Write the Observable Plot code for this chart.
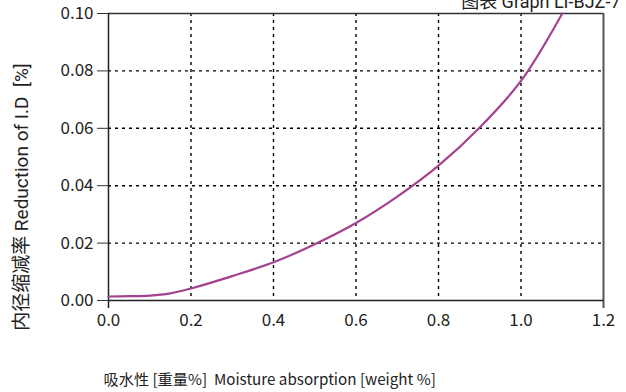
<!DOCTYPE html>
<html>
<head>
<meta charset="utf-8">
<script src="https://cdn.jsdelivr.net/npm/d3@7"></script>
<script src="https://cdn.jsdelivr.net/npm/@observablehq/plot@0.6"></script>
<style>
  html, body { margin: 0; padding: 0; background: #fff; }
  svg { font-family: "Noto Sans CJK SC", "Noto Sans", sans-serif; }
</style>
</head>
<body>
<div id="chart"></div>
<script>
const moisture = [0, 0.05, 0.1, 0.15, 0.2, 0.3, 0.4, 0.5, 0.6, 0.7, 0.8, 0.9, 1.0, 1.1];
const reduction = [0.0014, 0.0015, 0.0017, 0.0025, 0.0042, 0.0085, 0.0133, 0.0196, 0.0270, 0.0362, 0.0470, 0.0603, 0.0765, 0.1000];
const xTicks = [0, 0.2, 0.4, 0.6, 0.8, 1.0, 1.2];
const yTicks = [0, 0.02, 0.04, 0.06, 0.08, 0.10];
const title = "图表 Graph LI-BJZ-7";
const xLabel = "吸水性 [重量%]  Moisture absorption [weight %]";
const yLabel = "内径缩减率 Reduction of I.D  [%]";

const data = moisture.map((m, i) => ({m, r: reduction[i]}));

const chart = Plot.plot({
  width: 626,
  height: 392,
  marginLeft: 108,
  marginRight: 23,
  marginTop: 13,
  marginBottom: 92,
  style: {fontSize: "16px", color: "#222", background: "#fff"},
  x: {domain: [0, 1.2], ticks: xTicks},
  y: {domain: [0, 0.1], ticks: yTicks},
  marks: [
    Plot.gridX(xTicks.slice(1, -1), {stroke: "#000", strokeOpacity: 1, strokeWidth: 1.4, strokeDasharray: "3,4"}),
    Plot.gridY(yTicks.slice(1, -1), {stroke: "#000", strokeOpacity: 1, strokeWidth: 1.4, strokeDasharray: "3,4"}),
    Plot.axisX(xTicks, {tickSize: 0, tickPadding: 13, tickFormat: d3.format(".1f"), label: null, fontSize: 17}),
    Plot.axisY(yTicks, {tickSize: 11, tickPadding: 4, tickFormat: d3.format(".2f"), label: null, fontSize: 17, stroke: "#333"}),
    Plot.ruleY([0.1], {x1: 0, x2: 1.2, stroke: "#333", strokeWidth: 1.5}),
    Plot.ruleX([1.2], {y1: -0.0028, y2: 0.1, stroke: "#555", strokeWidth: 2}),
    Plot.ruleX([0], {y1: -0.0028, y2: 0.1, stroke: "#222", strokeWidth: 1.5}),
    Plot.ruleY([0], {x1: 0, x2: 1.2, stroke: "#222", strokeWidth: 1.5}),
    Plot.line(data, {x: "m", y: "r", stroke: "#a3428e", strokeWidth: 2.2, curve: "catmull-rom"}),
    Plot.text([title], {frameAnchor: "top-right", textAnchor: "end", lineAnchor: "bottom", dx: 17, dy: -6, fontSize: 18, fill: "#222", fontFamily: "Roboto, 'Noto Sans CJK SC', sans-serif"}),
    Plot.text([xLabel], {frameAnchor: "bottom-left", textAnchor: "start", lineAnchor: "middle", dx: -5, dy: 80, fontSize: 15.2, fill: "#222"}),
    Plot.text([yLabel], {frameAnchor: "left", textAnchor: "middle", lineAnchor: "middle", rotate: -90, dx: -87, dy: 40, fontSize: 19, fill: "#222", fontFamily: "Roboto, 'Noto Sans CJK SC', sans-serif"})
  ]
});
document.getElementById("chart").appendChild(chart);
</script>
</body>
</html>
